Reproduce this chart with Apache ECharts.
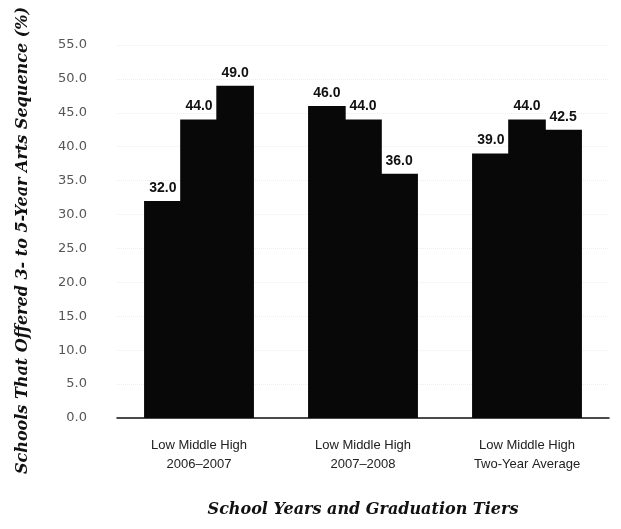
<!DOCTYPE html>
<html>
<head>
<meta charset="utf-8">
<script src="https://cdn.jsdelivr.net/npm/echarts@6/dist/echarts.min.js"></script>
<style>
  html, body { margin: 0; padding: 0; background: #fff; }
  #chart { width: 621px; height: 529px; }
</style>
</head>
<body>
<div id="chart"></div>
<script>
// School-year groups and the graduation tiers drawn inside each group
const groups = ['2006–2007', '2007–2008', 'Two-Year Average'];
const tiers = ['Low', 'Middle', 'High'];

// Share of schools offering a 3- to 5-year arts sequence (%), per tier
const lowValues = [32.0, 46.0, 39.0];
const middleValues = [44.0, 44.0, 44.0];
const highValues = [49.0, 36.0, 42.5];

const yTicks = { min: 0, max: 55, step: 5 };

const tierValues = [lowValues, middleValues, highValues];
const barColor = '#080808';

const titleFont = {
  fontFamily: 'DejaVu Serif',
  fontStyle: 'italic',
  fontWeight: 'bold',
  fontSize: 16,
  color: '#111'
};

const chart = echarts.init(document.getElementById('chart'));

chart.setOption({
  animation: false,
  backgroundColor: '#ffffff',
  grid: { left: 117, right: 12, top: 45, bottom: 111, outerBoundsMode: 'none', containLabel: false },
  xAxis: {
    type: 'category',
    data: groups,
    name: 'School Years and Graduation Tiers',
    nameLocation: 'middle',
    nameGap: 84,
    nameTextStyle: titleFont,
    axisLine: { lineStyle: { color: '#111', width: 1.5 } },
    axisTick: { show: false },
    axisLabel: {
      margin: 18,
      fontFamily: 'Liberation Sans',
      fontSize: 13,
      lineHeight: 19,
      color: '#222',
      formatter: v => tiers.join(' ') + '\n' + v
    }
  },
  yAxis: {
    type: 'value',
    min: yTicks.min,
    max: yTicks.max,
    interval: yTicks.step,
    name: 'Schools That Offered 3- to 5-Year Arts Sequence (%)',
    nameLocation: 'middle',
    nameGap: 86,
    nameTextStyle: Object.assign({}, titleFont, { padding: [0, 18, 0, 0] }),
    axisLine: { show: false },
    axisTick: { show: false },
    splitLine: { show: true, lineStyle: { color: '#eeeeee', type: 'dotted', width: 1 } },
    axisLabel: {
      margin: 30,
      fontFamily: 'DejaVu Sans',
      fontSize: 13,
      color: '#555',
      formatter: v => v.toFixed(1)
    }
  },
  series: tiers.map((t, i) => ({
    name: t,
    type: 'bar',
    data: tierValues[i],
    // touching bars overlap by about a pixel so no light seam shows between them
    barGap: '-4%',
    barCategoryGap: '33%',
    itemStyle: { color: barColor },
    label: {
      show: true,
      position: 'top',
      distance: 6,
      fontFamily: 'Liberation Sans',
      fontWeight: 'bold',
      fontSize: 14,
      color: '#111',
      formatter: p => p.value.toFixed(1)
    }
  }))
});
</script>
</body>
</html>
